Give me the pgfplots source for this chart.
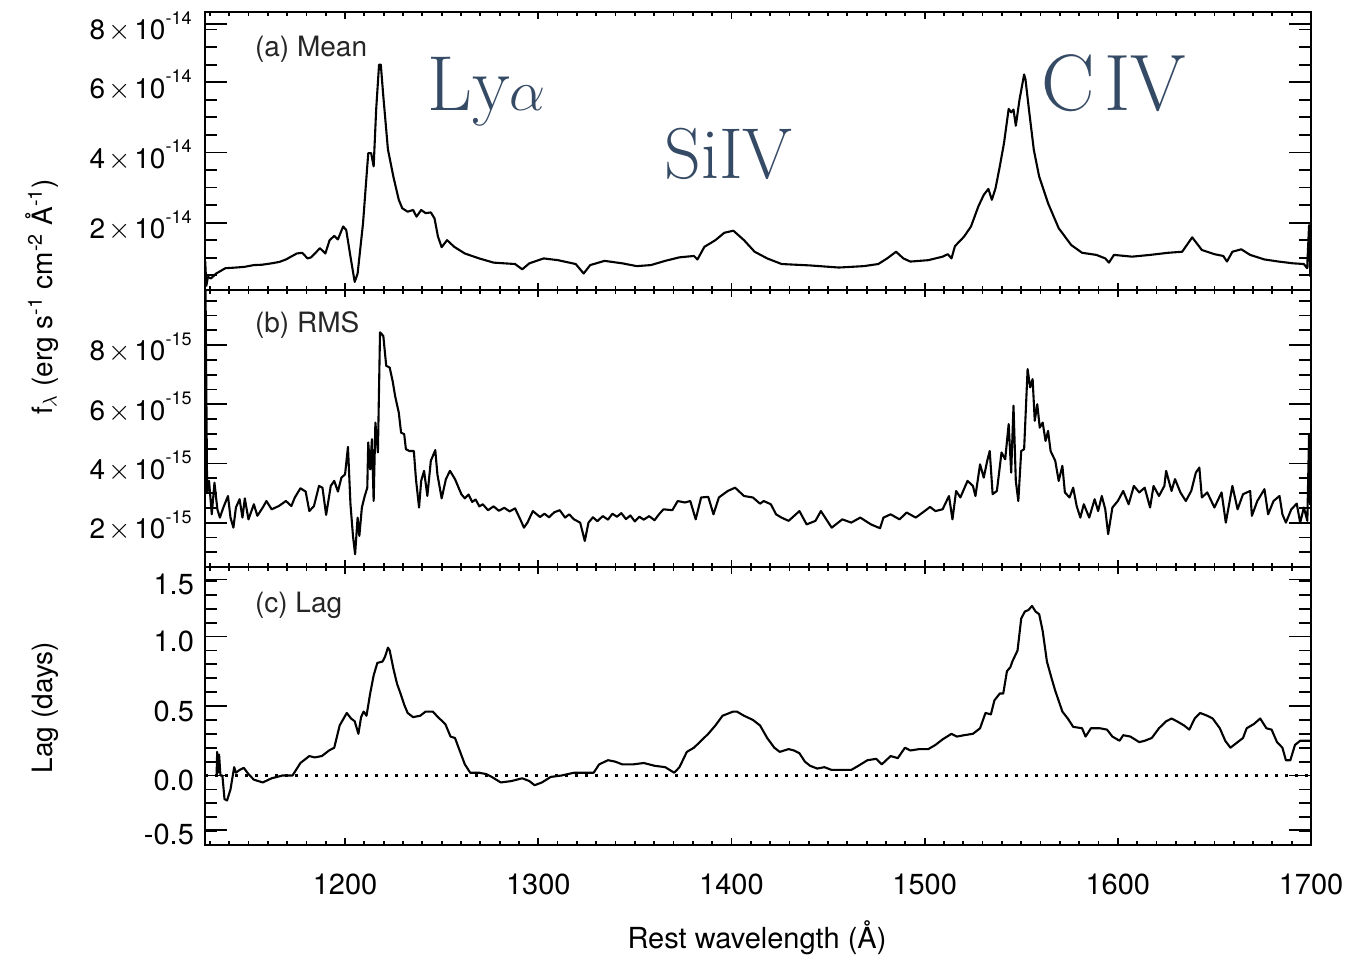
\documentclass[border=0pt]{standalone}
\usepackage{fontspec}
\setsansfont{TeX Gyre Heros}
\usepackage{pgfplots}
\pgfplotsset{compat=1.18}
\definecolor{annblue}{RGB}{53,74,100}
\newcommand{\ylab}[2]{#1\hspace{0.12em}$\times$\hspace{0.12em}10\raisebox{0.55em}{\fontsize{9}{9}\selectfont -#2}}
\pgfplotsset{
  myax/.style={
    scale only axis, width=553pt,
    xmin=1127.5, xmax=1700,
    xtick={1200,1300,...,1700},
    minor xtick={1130,1140,...,1690},
    axis line style={line width=1.2pt},
    tick style={line width=0.9pt, black},
    tick align=inside,
    xtick style={/pgfplots/major tick length=3.5pt, /pgfplots/minor tick length=2pt},
    ytick style={/pgfplots/major tick length=11pt, /pgfplots/minor tick length=6pt},
    xticklabel style={font=\sffamily\fontsize{14.5}{16}\selectfont, yshift=-11pt},
    /pgf/number format/assume math mode=true,
    /pgf/number format/1000 sep={},
  },
  spec/.style={black, no markers, line width=1.05pt, line join=round},
}
\begin{document}
\begin{tikzpicture}
\path[use as bounding box] (0pt,0pt) rectangle (678pt,-479pt);
% ---------- (a) Mean ----------
\begin{axis}[myax, at={(102.5pt,-145pt)}, anchor=south west, height=139pt,
  ymin=0.08, ymax=8,
  ytick={2,4,6,8}, yticklabels={\ylab{2}{14},\ylab{4}{14},\ylab{6}{14},{}},
  extra y ticks={7.66}, extra y tick labels={\ylab{8}{14}},
  extra y tick style={major tick length=0pt},
  minor ytick={0.5,1,...,7.5},
  yticklabel style={font=\sffamily\fontsize{14}{15}\selectfont, xshift=-3.2pt, yshift=-1.5pt},
  xticklabels={}]
\addplot[spec] coordinates {(1127.6,0.9) (1128.2,0.2) (1129,0.45) (1130.6,0.41) (1133.3,0.55) (1138,0.70) (1143.5,0.72) (1148,0.74) (1152.8,0.79) (1157,0.80) (1162,0.84) (1166,0.88) (1169.4,0.95) (1175,1.12) (1177.8,1.14) (1180.6,0.98) (1182.4,1.01) (1187,1.27) (1189.8,1.12) (1192,1.50) (1194.4,1.62) (1196.3,1.52) (1199,1.89) (1200.6,1.79) (1202.8,1.03) (1205,0.31) (1206.5,0.55) (1209.3,1.98) (1212,3.98) (1213.5,3.98) (1214.8,3.6) (1216.1,5.22) (1217.6,6.5) (1218.5,6.5) (1219.8,5.6) (1222.2,4.08) (1225,3.31) (1227.8,2.65) (1229.6,2.41) (1232.4,2.31) (1235.2,2.36) (1237,2.17) (1239.4,2.36) (1241.7,2.27) (1244.4,2.29) (1246.3,2.12) (1248.1,1.6) (1250,1.30) (1252.8,1.50) (1256.5,1.31) (1262,1.12) (1269.4,0.98) (1276.9,0.86) (1288,0.82) (1291.7,0.67) (1295.4,0.84) (1302.8,0.98) (1310.2,0.93) (1319.4,0.82) (1323.5,0.55) (1326.9,0.79) (1334.3,0.91) (1343.5,0.84) (1351,0.76) (1358.3,0.79) (1365.7,0.91) (1373,1.01) (1380.6,1.05) (1382.4,0.95) (1386,1.31) (1391.7,1.5) (1396.3,1.71) (1401,1.77) (1406.5,1.50) (1412,1.17) (1418.5,0.98) (1426,0.82) (1440.7,0.78) (1455.6,0.72) (1468.5,0.76) (1476,0.82) (1480.6,0.98) (1485.2,1.17) (1489,0.98) (1492.6,0.89) (1501.9,0.93) (1509.3,1.03) (1512,1.10) (1513.9,0.98) (1515.7,1.33) (1520.4,1.6) (1524,1.89) (1527.8,2.46) (1530.6,2.79) (1533,2.96) (1534.8,2.65) (1536.7,2.98) (1538.9,3.6) (1541.1,4.27) (1543.5,5.24) (1544.8,5.14) (1546,5.22) (1547.2,4.76) (1549.1,5.5) (1551.5,6.22) (1552.2,6.08) (1554,5.22) (1556.5,4.08) (1559.3,3.31) (1563.9,2.55) (1569.4,1.84) (1575.9,1.36) (1581.5,1.14) (1588.9,1.08) (1593.5,0.98) (1595.4,0.86) (1598,1.08) (1607.4,1.03) (1616.7,1.08) (1626,1.14) (1633.3,1.17) (1638.5,1.58) (1643.5,1.22) (1650,1.10) (1654.6,1.05) (1656.5,0.89) (1659.3,1.17) (1663.9,1.24) (1668.5,1.08) (1675.9,0.95) (1683.3,0.89) (1690.7,0.84) (1696.3,0.82) (1698,0.70) (1699,1.93) (1699.6,0.46)};
\end{axis}
% ---------- (b) RMS ----------
\begin{axis}[myax, at={(102.5pt,-283.5pt)}, anchor=south west, height=138.5pt,
  ymin=0.5, ymax=9.86,
  ytick={2,4,6,8}, yticklabels={\ylab{2}{15},\ylab{4}{15},\ylab{6}{15},\ylab{8}{15}},
  minor ytick={0.5,1,...,9.5},
  yticklabel style={font=\sffamily\fontsize{14}{15}\selectfont, xshift=-3.2pt, yshift=-1.5pt},
  xticklabels={}]
\addplot[spec] coordinates {(1127.7,10.5) (1128.6,3.0) (1129.6,3.41) (1131,2.28) (1132.4,3.35) (1133.9,2.45) (1135.2,2.17) (1137,2.51) (1139.4,2.9) (1140.7,2.17) (1142.2,1.83) (1143.5,2.51) (1145.4,2.79) (1146.9,2.17) (1148.1,2.82) (1150,2.11) (1152.8,2.62) (1154.6,2.23) (1157.4,2.51) (1159.3,2.73) (1162,2.45) (1165.7,2.56) (1169.4,2.73) (1172.2,2.56) (1174,2.85) (1176.9,3.16) (1179.6,3.05) (1181.5,2.39) (1183.9,2.56) (1186.5,3.24) (1188.3,3.18) (1190.2,2.26) (1192.6,3.24) (1194.4,3.41) (1196.3,3.05) (1198.1,3.52) (1200,3.63) (1201.5,4.56) (1202.8,2.62) (1204.1,1.55) (1205.2,0.93) (1206.5,2.17) (1207.4,1.55) (1208.7,2.51) (1210.2,2.9) (1211.5,3.18) (1212,4.71) (1213,3.8) (1213.9,4.82) (1214.8,2.73) (1215.7,5.38) (1217,4.37) (1218.1,8.43) (1219.8,8.31) (1221.3,7.3) (1223.1,7.24) (1224.6,6.79) (1225.9,6.28) (1227.8,5.72) (1229,5.04) (1230.6,4.99) (1231.5,4.48) (1233.3,4.42) (1235.6,4.42) (1236.7,3.47) (1238.3,2.51) (1239.4,3.41) (1240.9,3.75) (1242.6,2.9) (1244.4,4.09) (1246.7,4.45) (1247.8,3.63) (1250,2.82) (1252.2,3.47) (1254.3,3.75) (1256.9,3.47) (1260.2,2.96) (1262,2.82) (1263.9,2.95) (1265.8,2.70) (1267.6,2.78) (1269.5,2.55) (1271.3,2.62) (1274,2.42) (1276.9,2.55) (1279.6,2.40) (1282.4,2.50) (1285.2,2.38) (1288,2.48) (1290.7,2.11) (1292.6,1.83) (1294.4,2.0) (1297.2,2.39) (1300.9,2.19) (1303.2,2.30) (1305.6,2.18) (1308.3,2.35) (1311.1,2.42) (1313.9,2.17) (1316,2.28) (1318.5,2.11) (1321.7,2.0) (1324.1,1.38) (1326,2.0) (1328.3,2.18) (1330.6,2.05) (1333.4,2.22) (1336.1,2.10) (1338.4,2.30) (1340.7,2.20) (1343,2.32) (1345.4,2.12) (1347.7,2.24) (1350,2.04) (1352.3,2.20) (1354.6,2.10) (1357.4,2.22) (1360.2,2.08) (1362.5,2.28) (1364.8,2.45) (1369.4,2.42) (1372.2,2.73) (1375.9,2.68) (1378.7,2.73) (1381.5,2.11) (1384.3,2.85) (1388,2.87) (1390.7,2.28) (1393.5,2.85) (1398.1,3.07) (1401.9,3.18) (1406.5,2.9) (1411.1,2.85) (1414.8,2.64) (1416.7,2.73) (1420.4,2.62) (1423.1,2.28) (1425.9,2.17) (1429.6,2.06) (1435.2,2.39) (1438.9,1.94) (1443.5,2.06) (1446.3,2.39) (1451.9,1.83) (1457.4,2.11) (1462,2.0) (1466.7,2.17) (1472.2,1.94) (1476.9,1.81) (1478.7,2.17) (1482.4,2.28) (1487,2.11) (1490.7,2.34) (1495.4,2.17) (1500,2.39) (1502.8,2.53) (1505.6,2.39) (1509.3,2.45) (1512.6,2.9) (1514.4,2.11) (1516.3,3.07) (1518.5,2.85) (1522.2,3.41) (1525,3.24) (1526.3,2.9) (1528.7,3.97) (1530.6,3.52) (1532.4,4.09) (1533.7,4.42) (1535.2,2.96) (1537.4,3.07) (1539.8,4.37) (1541.7,4.14) (1543.5,5.33) (1544.8,3.69) (1546,5.95) (1547.2,3.41) (1548.5,2.73) (1550,4.42) (1551.5,4.48) (1553.3,7.19) (1554.6,6.57) (1555.9,6.85) (1557,5.44) (1558.3,6.0) (1559.6,5.21) (1561.1,5.38) (1562.6,4.76) (1563.9,5.10) (1565.2,4.42) (1567.6,4.09) (1569.4,3.41) (1571.3,3.92) (1572.6,3.02) (1575,2.85) (1576.9,3.18) (1578.7,2.56) (1580.6,2.17) (1582.4,2.62) (1585.2,2.17) (1588,2.79) (1589.8,2.39) (1591.7,2.9) (1593.5,2.45) (1595,1.61) (1597.2,2.51) (1600,2.73) (1602.8,3.07) (1605.6,2.62) (1608.3,3.24) (1611.1,3.02) (1613.9,3.18) (1616.7,2.51) (1618.5,3.24) (1621.3,2.9) (1624.1,3.24) (1625,3.75) (1627.8,3.07) (1629.6,3.47) (1632.4,3.02) (1635.2,2.73) (1638,3.07) (1640.4,3.69) (1642.2,3.86) (1643.5,2.85) (1646.3,3.02) (1650,2.51) (1653.7,3.02) (1655.9,2.0) (1659.3,3.24) (1662,2.45) (1664.8,2.96) (1668.5,3.07) (1669.4,2.23) (1672.2,2.73) (1675.9,3.13) (1677.8,2.28) (1680.6,2.73) (1683.7,2.9) (1685.2,2.28) (1687,2.0) (1689.8,2.45) (1692.6,2.64) (1694.4,2.0) (1696.3,2.51) (1698.1,2.06) (1699,5.0) (1699.6,2.6)};
\end{axis}
% ---------- (c) Lag ----------
\begin{axis}[myax, at={(102.5pt,-422.5pt)}, anchor=south west, height=139pt,
  ymin=-0.5, ymax=1.5,
  ytick={-0.5,0,0.5,1,1.5}, yticklabels={{},0.0,0.5,1.0,{}},
  extra y ticks={1.41,-0.39}, extra y tick labels={1.5,-0.5},
  extra y tick style={major tick length=0pt},
  minor ytick={-0.4,-0.3,...,1.45},
  yticklabel style={font=\sffamily\fontsize{14.5}{16}\selectfont, xshift=-2pt, yshift=-2.5pt}]
\addplot[black, no markers, dash pattern=on 1.3pt off 3.7pt, line width=1.1pt] coordinates {(1127.5,0) (1700,0)};
\addplot[spec] coordinates {(1133.5,0.0) (1133.8,0.17) (1134.2,0.02) (1134.8,0.15) (1135.5,0.0) (1136.5,0.0) (1137.6,-0.17) (1138.9,-0.18) (1140.7,-0.10) (1142.6,0.06) (1143.5,0.02) (1145.4,0.04) (1147.6,0.055) (1150,0.01) (1152.8,-0.03) (1157.4,-0.05) (1162,-0.02) (1167.6,0.0) (1172.8,0.0) (1176.9,0.09) (1181.5,0.14) (1184.3,0.13) (1188,0.14) (1191.7,0.18) (1194.4,0.20) (1197.2,0.36) (1200.9,0.45) (1203.1,0.41) (1205,0.39) (1206.9,0.30) (1208.3,0.42) (1209.6,0.46) (1211.1,0.43) (1213,0.59) (1214.8,0.72) (1216.7,0.81) (1219.4,0.82) (1220.7,0.855) (1222.2,0.92) (1223.1,0.90) (1225,0.77) (1226.9,0.66) (1228.7,0.59) (1230.6,0.51) (1232.4,0.45) (1235.2,0.42) (1238.9,0.43) (1241.7,0.46) (1245.4,0.46) (1248.1,0.42) (1251.9,0.37) (1254.6,0.28) (1256.9,0.27) (1259.3,0.18) (1262,0.08) (1264.8,0.02) (1269.4,0.02) (1273.1,0.01) (1275.9,-0.01) (1280.6,-0.05) (1286.1,-0.04) (1291.7,-0.02) (1295.4,-0.04) (1298.1,-0.07) (1301.9,-0.05) (1306.5,-0.01) (1312,0.0) (1318.5,0.02) (1323.1,0.02) (1328.7,0.02) (1331.5,0.08) (1336.1,0.11) (1339.8,0.10) (1343.5,0.08) (1349.1,0.08) (1354.6,0.09) (1360.2,0.07) (1365.7,0.06) (1370.4,0.02) (1373.1,0.06) (1376.9,0.17) (1380.6,0.20) (1384.3,0.25) (1388,0.30) (1391.7,0.36) (1395.4,0.43) (1400.9,0.46) (1402.8,0.46) (1406.5,0.43) (1411.1,0.40) (1414.8,0.36) (1418.5,0.27) (1422.2,0.20) (1425,0.17) (1429.6,0.19) (1432.4,0.18) (1435.2,0.16) (1438,0.10) (1440.7,0.07) (1444.4,0.05) (1448.1,0.06) (1451.9,0.04) (1457.4,0.04) (1462,0.04) (1465.7,0.07) (1470.4,0.11) (1475,0.12) (1477.8,0.08) (1482.4,0.14) (1486.1,0.125) (1489.8,0.20) (1492.6,0.18) (1497.2,0.19) (1501.9,0.19) (1505.6,0.22) (1509.3,0.26) (1513.9,0.30) (1516.7,0.28) (1520.4,0.29) (1525,0.30) (1528.7,0.34) (1531.5,0.45) (1534.3,0.44) (1536.1,0.54) (1538.9,0.59) (1540.7,0.59) (1542.6,0.75) (1544.4,0.78) (1545.4,0.82) (1548.1,0.90) (1550,1.13) (1551.9,1.18) (1553.7,1.19) (1555.6,1.22) (1557.4,1.18) (1559.3,1.16) (1561.1,1.04) (1563.3,0.82) (1565.7,0.70) (1567.6,0.61) (1571.3,0.46) (1574.1,0.41) (1576.9,0.35) (1581.5,0.34) (1583.3,0.28) (1586.1,0.34) (1590.7,0.34) (1594.4,0.33) (1597.2,0.28) (1600.9,0.25) (1602.8,0.29) (1606.5,0.28) (1611.1,0.24) (1613.9,0.25) (1617.6,0.27) (1621.3,0.34) (1625,0.39) (1627.8,0.41) (1630.6,0.39) (1634.3,0.36) (1637,0.33) (1639.8,0.41) (1642.6,0.45) (1646.3,0.43) (1649.1,0.41) (1652.8,0.34) (1655.6,0.25) (1658.3,0.20) (1662,0.24) (1664.8,0.27) (1666.7,0.34) (1670.4,0.37) (1673.7,0.41) (1676.9,0.34) (1679.6,0.33) (1682.4,0.24) (1685.2,0.20) (1687,0.11) (1689.3,0.11) (1691.7,0.22) (1694.4,0.25) (1700,0.25)};
\end{axis}
% ---------- texts ----------
\node[anchor=west, font=\sffamily\fontsize{14}{16}\selectfont, text=black!85] at (124pt,-24.5pt) {(a) Mean};
\node[anchor=west, font=\sffamily\fontsize{14}{16}\selectfont, text=black!85] at (124pt,-162.5pt) {(b) RMS};
\node[anchor=west, font=\sffamily\fontsize{14}{16}\selectfont, text=black!85] at (124pt,-302.5pt) {(c) Lag};
\node[anchor=base west, text=annblue, font=\fontsize{39}{44}\selectfont, inner sep=0pt] at (213.4pt,-55pt) {Ly\scalebox{1.15}{$\alpha$}};
\node[anchor=base west, text=annblue, font=\fontsize{36}{40}\selectfont, inner sep=0pt] at (332pt,-89pt) {SiIV};
\node[anchor=base west, text=annblue, font=\fontsize{40}{44}\selectfont, inner sep=0pt] at (520.4pt,-55pt) {C\hspace{0.12em}IV};
\node[rotate=90, font=\sffamily\fontsize{14}{16}\selectfont] at (21pt,-148.5pt) {f$_\lambda$ (erg s\textsuperscript{-1} cm\textsuperscript{-2} Å\textsuperscript{-1})};
\node[rotate=90, font=\sffamily\fontsize{14}{16}\selectfont] at (22.5pt,-353.75pt) {Lag (days)};
\node[font=\sffamily\fontsize{14.5}{16}\selectfont] at (378.5pt,-469pt) {Rest wavelength (Å)};
\end{tikzpicture}
\end{document}
